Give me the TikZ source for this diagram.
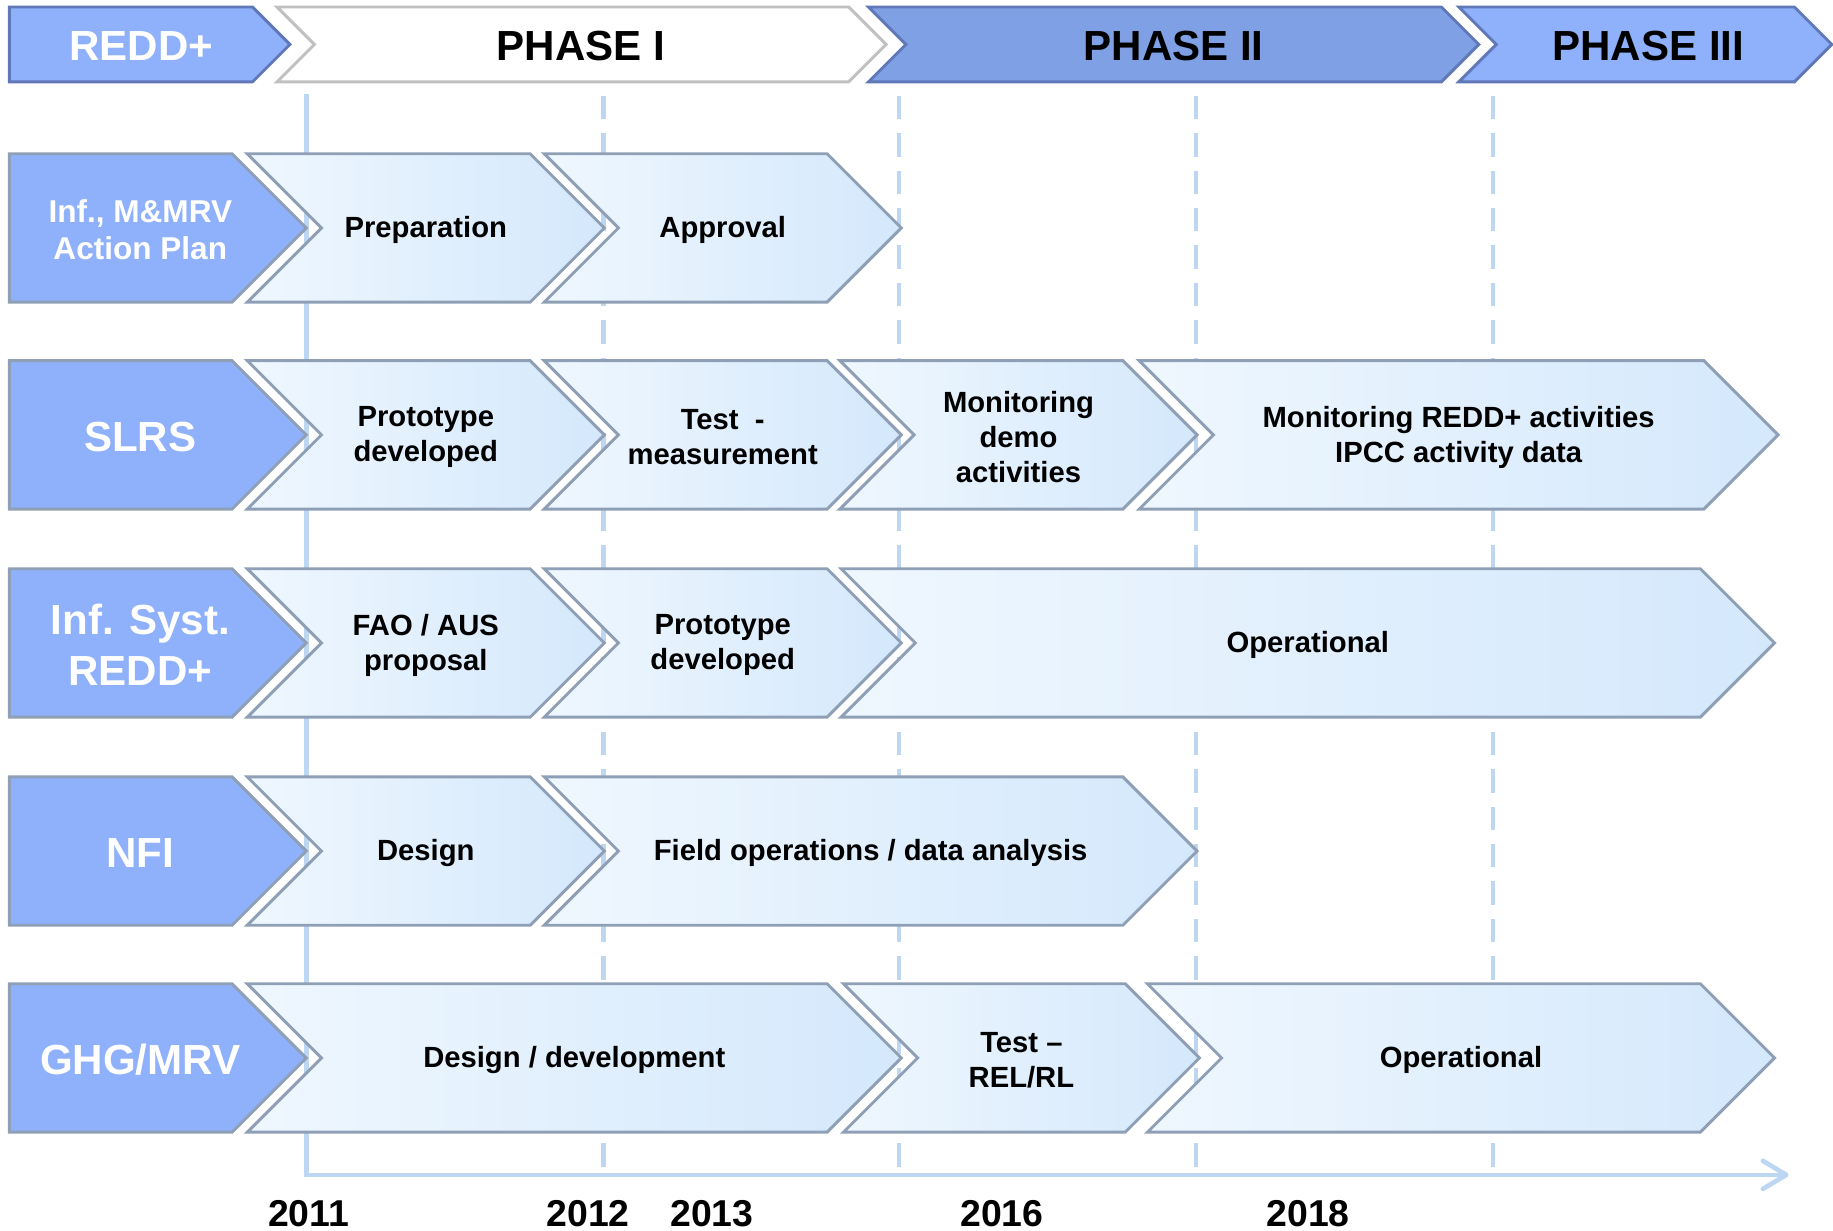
\documentclass[tikz,border=0pt]{standalone}
\usepackage{fontspec}
\setmainfont{Liberation Sans}
\usetikzlibrary{arrows.meta}

\definecolor{lblfill}{RGB}{143,176,250}
\definecolor{phasetwo}{RGB}{127,160,228}
\definecolor{phaseline}{RGB}{96,120,184}
\definecolor{phasegray}{RGB}{192,192,192}
\definecolor{boxline}{RGB}{143,160,182}
\definecolor{boxleft}{RGB}{239,247,254}
\definecolor{boxright}{RGB}{212,232,252}
\definecolor{axisblue}{RGB}{189,215,242}

\tikzset{
  stagebox/.style={draw=boxline,line width=2.5pt,left color=boxleft,right color=boxright},
  rowbox/.style={draw=boxline,line width=2.5pt,fill=lblfill},
  phasebox/.style={draw=phaseline,line width=2.5pt},
  stagetext/.style={align=center,yshift=-2pt,font=\fontsize{25}{30}\selectfont\bfseries},
  rowtext/.style={align=center,yshift=-1.5pt,text=white,font=\fontsize{36}{43}\selectfont\bfseries},
  phasetext/.style={yshift=-1.5pt,font=\fontsize{36}{43}\selectfont\bfseries},
  yeartext/.style={font=\fontsize{32}{38}\selectfont\bfseries},
  gridline/.style={axisblue,line width=4pt,dash pattern=on 20pt off 12pt}
}

% one step of a row: name, notch x, tip x, centre y, text
\newcommand{\stage}[5]{%
  \draw[stagebox] ({#2-63.5},{#4-63.5}) -- ({#3-63.5},{#4-63.5}) -- (#3,#4) -- ({#3-63.5},{#4+63.5}) -- ({#2-63.5},{#4+63.5}) -- (#2,#4) -- cycle;
  \node[stagetext] (#1) at ({(#2+#3)/2-31.75},#4) {#5};}
% row head: [extra text style], name, centre y, text
\newcommand{\rowlabel}[4][]{%
  \draw[rowbox] (8,{#3-63.5}) -- (198.5,{#3-63.5}) -- (262,#3) -- (198.5,{#3+63.5}) -- (8,{#3+63.5}) -- cycle;
  \node[rowtext,#1] (#2) at (120,#3) {#4};}

\begin{document}
\begin{tikzpicture}[x=1pt,y=-1pt]
\useasboundingbox (0,0) rectangle (1568,1053);

% time axis
\coordinate (origin) at (262,1005);
\coordinate (axistop) at (262,80);
\coordinate (axisend) at (1530,1005);
\foreach \x in {516,769,1023,1277}
  \draw[gridline] (\x,82) -- (\x,1000);
\draw[axisblue,line width=4pt,-{Straight Barb[length=20pt,width=24pt,round]}] (axistop) -- (origin) -- (axisend);
\foreach \yr/\x in {2011/264,2012/503,2013/609,2016/857,2018/1119}
  \node[yeartext] (y\yr) at (\x,1038) {\yr};

% phases
\draw[phasebox,fill=lblfill] (8,6) -- (216,6) -- (248,38) -- (216,70) -- (8,70) -- cycle;
\node[rowtext] (redd) at (121,38) {REDD+};
\draw[draw=phasegray,line width=2.5pt,fill=white] (237,6) -- (726,6) -- (758,38) -- (726,70) -- (237,70) -- (269,38) -- cycle;
\node[phasetext] (phaseone) at (497,38) {PHASE I};
\draw[phasebox,fill=phasetwo] (743,6) -- (1233,6) -- (1265,38) -- (1233,70) -- (743,70) -- (775,38) -- cycle;
\node[phasetext] (phasetwo) at (1004,38) {PHASE II};
\draw[phasebox,fill=lblfill] (1248,6) -- (1535,6) -- (1567,38) -- (1535,70) -- (1248,70) -- (1280,38) -- cycle;
\node[phasetext] (phasethree) at (1410,38) {PHASE III};

% action plan
\rowlabel[font=\fontsize{27}{32}\selectfont\bfseries]{plan}{195}{Inf., M\&MRV\\Action Plan}
\stage{prep}{275}{517}{195}{Preparation}
\stage{appr}{529}{771}{195}{Approval}

% SLRS
\rowlabel{slrs}{372}{SLRS}
\stage{slrsproto}{275}{517}{372}{Prototype\\developed}
\stage{slrstest}{529}{771}{372}{Test\ \ -\\measurement}
\stage{slrsdemo}{782}{1024}{372}{Monitoring\\demo\\activities}
\stage{slrsmon}{1038}{1521}{372}{Monitoring REDD+ activities\\IPCC activity data}

% information system
\rowlabel{infsys}{550}{Inf. Syst.\\REDD+}
\stage{fao}{275}{517}{550}{FAO / AUS\\proposal}
\stage{isproto}{529}{771}{550}{Prototype\\developed}
\stage{isop}{783}{1518}{550}{Operational}

% NFI
\rowlabel{nfi}{728}{NFI}
\stage{nfidesign}{275}{517}{728}{Design}
\stage{nfifield}{529}{1024}{728}{Field operations / data analysis}

% GHG/MRV
\rowlabel{ghg}{905}{GHG/MRV}
\stage{ghgdesign}{275}{771}{905}{Design / development}
\stage{ghgtest}{785}{1026}{905}{Test --\\REL/RL}
\stage{ghgop}{1045}{1518}{905}{Operational}
\end{tikzpicture}
\end{document}
